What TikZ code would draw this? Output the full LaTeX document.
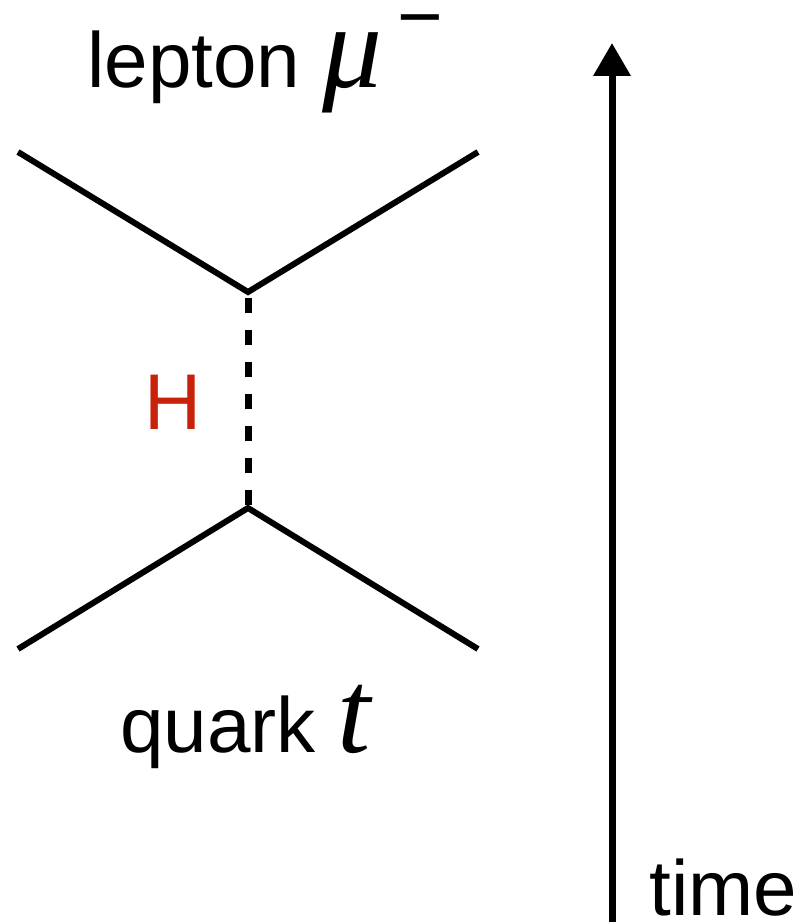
\documentclass[tikz,border=0pt]{standalone}
\usepackage{fontspec}
\setmainfont{Liberation Sans}
\newfontfamily\partfont{Liberation Serif Italic}
\usetikzlibrary{arrows.meta}
\definecolor{higgsred}{RGB}{200,35,10}
\tikzset{
  fermion/.style={line width=0.12cm},
  scalar/.style={line width=0.14cm,dash pattern=on 0.3cm off 0.34cm,dash phase=0.52cm},
  lbl/.style={inner sep=0,anchor=base west,font=\fontsize{44.5}{50}\selectfont},
}
\newcommand{\symb}[1]{{\partfont\fontsize{68}{70}\selectfont #1}}

\begin{document}
\begin{tikzpicture}[>=Stealth,x=0.02cm,y=-0.02cm]
\useasboundingbox (0,0) rectangle (804,922);
% vertices and outer ends
\coordinate (vt) at (248,292); \coordinate (vb) at (248,508);
\coordinate (ul) at (18,152); \coordinate (ur) at (478,152);
\coordinate (ll) at (18,649); \coordinate (lr) at (478,649);
\draw[fermion] (ul) -- (vt) -- (ur);
\draw[fermion] (ll) -- (vb) -- (lr);
\draw[scalar] (vt) -- (vb);
\node[inner sep=0,text=higgsred,font=\fontsize{45}{50}\selectfont] (higgs) at (173.5,402) {H};
\node[lbl] (lep) at (87,88) {lepton \symb{μ}\hspace{0.3cm}\raisebox{0.9cm}{−}};
\node[lbl] (qrk) at (120,752) {quark \symb{t}};
% time axis
\coordinate (t0) at (612,922); \coordinate (t1) at (612,43);
\draw[line width=0.14cm,-{Triangle[width=0.72cm,length=0.66cm]}] (t0) -- (t1);
\node[lbl] (time) at (649,915) {time};
\end{tikzpicture}
\end{document}
